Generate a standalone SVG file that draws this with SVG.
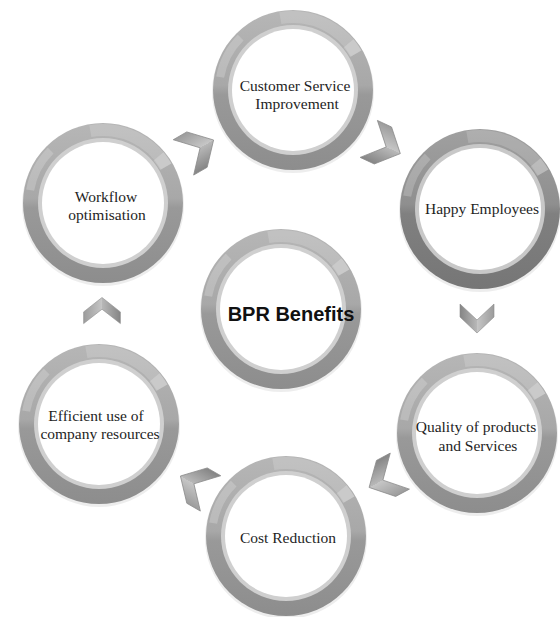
<svg xmlns="http://www.w3.org/2000/svg" xmlns:xlink="http://www.w3.org/1999/xlink" width="560" height="617" viewBox="0 0 560 617">
<style>
.lbl{font-family:"Liberation Serif","Times New Roman",serif;font-size:15.5px;fill:#1e1e1e;text-anchor:middle}
.main{font-family:"Liberation Sans",Arial,sans-serif;font-size:20px;font-weight:bold;fill:#111;text-anchor:middle}
.chev{fill:url(#chevG);stroke:#8a8a8a;stroke-width:0.6;stroke-linejoin:round}
</style>
<defs>
<linearGradient id="ringG" x1="0" y1="0" x2="0" y2="1">
<stop offset="0" stop-color="#b6b6b6"/>
<stop offset="0.47" stop-color="#a8a8a8"/>
<stop offset="0.53" stop-color="#999999"/>
<stop offset="1" stop-color="#8d8d8d"/>
</linearGradient>
<linearGradient id="ringD" x1="0" y1="0" x2="0" y2="1">
<stop offset="0" stop-color="#a0a0a0"/>
<stop offset="0.47" stop-color="#8f8f8f"/>
<stop offset="0.53" stop-color="#808080"/>
<stop offset="1" stop-color="#767676"/>
</linearGradient>
<linearGradient id="chevG" x1="0" y1="0" x2="1" y2="0">
<stop offset="0" stop-color="#858585"/>
<stop offset="0.5" stop-color="#b8b8b8"/>
<stop offset="0.5" stop-color="#c6c6c6"/>
<stop offset="1" stop-color="#9c9c9c"/>
</linearGradient>
<g id="gloss">
<path d="M -13.7,-77.8 A 79 79 0 0 1 68.4,-39.5 L 58.0,-33.5 A 67 67 0 0 0 -11.6,-66.0 Z" fill="#ffffff" opacity="0.16"/>
<path d="M 60.5,-50.8 A 79 79 0 0 1 68.4,-39.5 L 57.2,-33 A 66 66 0 0 0 50.6,-42.4 Z" fill="#ffffff" opacity="0.22"/>
<path d="M -76.8,-13.5 A 78 78 0 0 1 -55.2,-55.2 L -49.5,-49.5 A 70 70 0 0 0 -68.9,-12.2 Z" fill="#ffffff" opacity="0.2"/>
</g>
<g id="ring">
<circle cx="0" cy="2" r="81" fill="#000" opacity="0.07"/>
<circle r="80" fill="url(#ringG)"/>
<use xlink:href="#gloss"/>
<circle r="65" fill="#cfcfcf"/>
<circle r="61" fill="#ffffff"/>
</g>
<g id="ringDark">
<circle cx="0" cy="2" r="81" fill="#000" opacity="0.07"/>
<circle r="80" fill="url(#ringD)"/>
<use xlink:href="#gloss"/>
<circle r="65" fill="#c8c8c8"/>
<circle r="61" fill="#ffffff"/>
</g>
<polygon id="chev" class="chev" points="-17,-14 0,2 17,-14 17,-1 0,15 -17,-1"/>
</defs>
<rect width="560" height="617" fill="#ffffff"/>

<g id="connectors">
<use xlink:href="#chev" transform="translate(384,146) rotate(-65) scale(1.2)"/>
<use xlink:href="#chev" transform="translate(477,318)"/>
<use xlink:href="#chev" transform="translate(385,479) rotate(62) scale(1.2)"/>
<use xlink:href="#chev" transform="translate(196,485) rotate(120) scale(1.2)"/>
<use xlink:href="#chev" transform="translate(102,311) rotate(180) scale(1.08,0.9)"/>
<use xlink:href="#chev" transform="translate(198,149) rotate(-120) scale(1.2)"/>
</g>

<g id="node-customer-service">
<use xlink:href="#ring" transform="translate(293,90)"/>
<text class="lbl" x="295" y="91">Customer Service</text>
<text class="lbl" x="297" y="109">Improvement</text>
</g>
<g id="node-happy-employees">
<use xlink:href="#ringDark" transform="translate(480,209)"/>
<text class="lbl" x="482" y="214">Happy Employees</text>
</g>
<g id="node-bpr-benefits">
<use xlink:href="#ring" transform="translate(281,309)"/>
<text class="main" x="291" y="321">BPR Benefits</text>
</g>
<g id="node-quality">
<use xlink:href="#ring" transform="translate(477,433)"/>
<text class="lbl" x="476" y="432">Quality of products</text>
<text class="lbl" x="478" y="451">and Services</text>
</g>
<g id="node-cost-reduction">
<use xlink:href="#ring" transform="translate(286,536)"/>
<text class="lbl" x="288" y="543">Cost Reduction</text>
</g>
<g id="node-efficient-use">
<use xlink:href="#ring" transform="translate(99,424)"/>
<text class="lbl" x="96" y="421">Efficient use of</text>
<text class="lbl" x="100" y="439">company resources</text>
</g>
<g id="node-workflow">
<use xlink:href="#ring" transform="translate(103,203)"/>
<text class="lbl" x="106" y="202">Workflow</text>
<text class="lbl" x="107" y="220">optimisation</text>
</g>
</svg>
